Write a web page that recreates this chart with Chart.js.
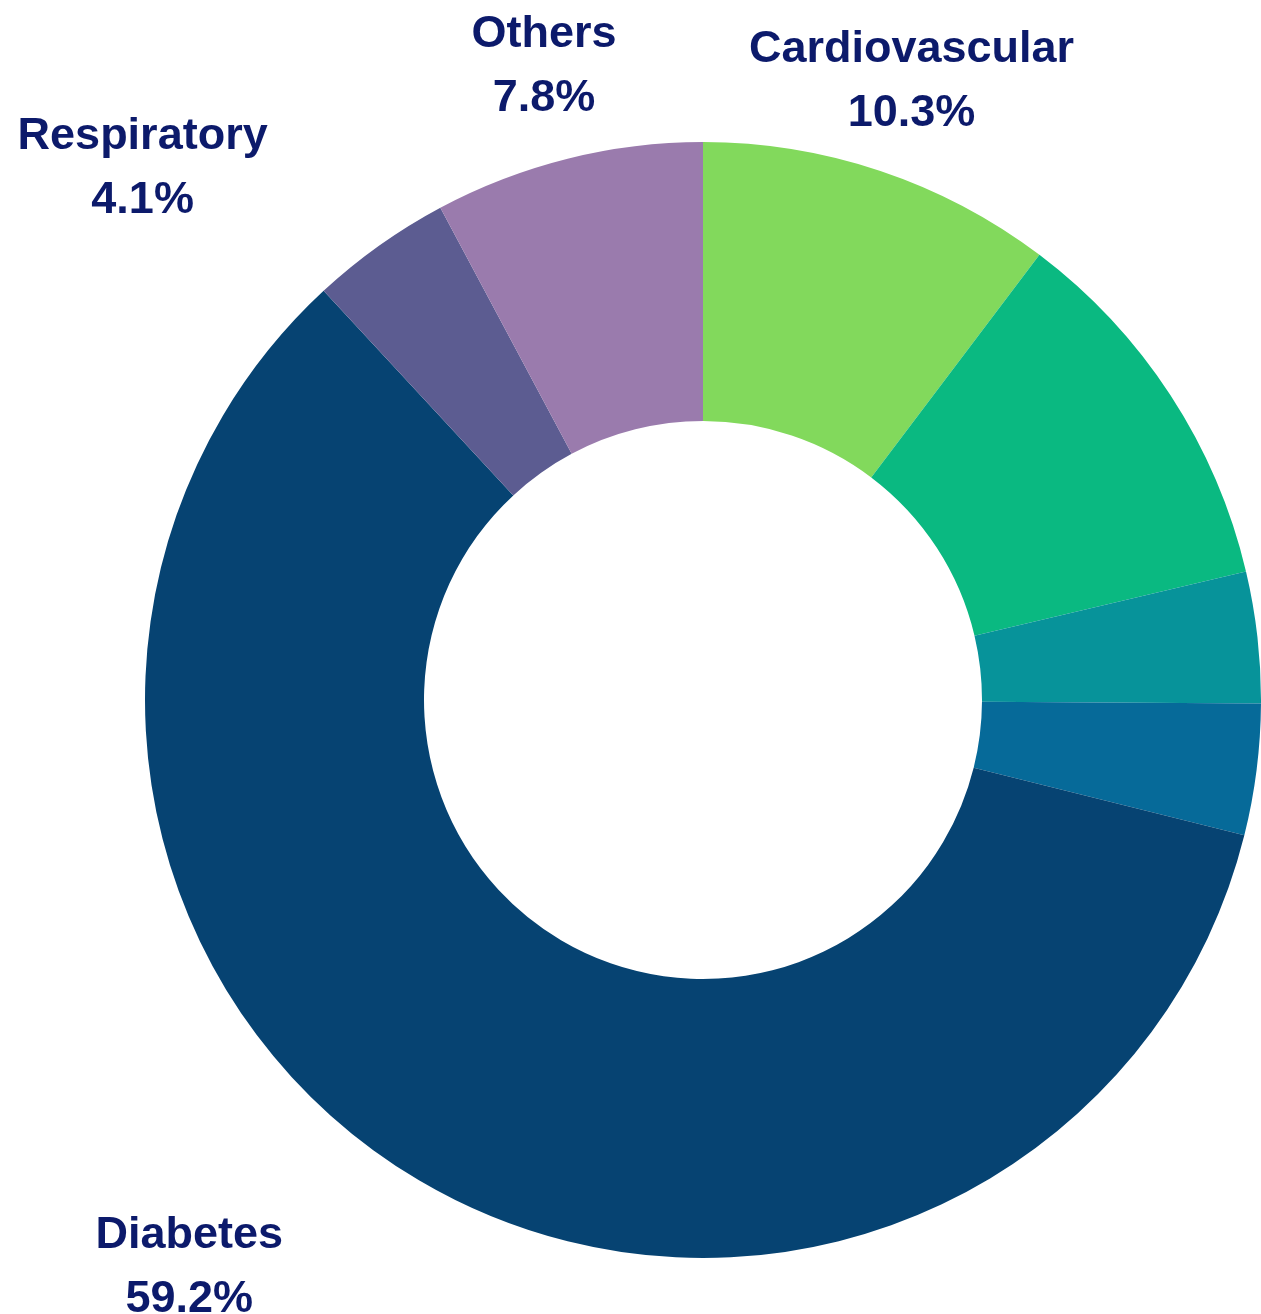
<!DOCTYPE html>
<html>
<head>
<meta charset="utf-8">
<script src="https://cdn.jsdelivr.net/npm/chart.js@4.4.1/dist/chart.umd.min.js"></script>
<style>
  html, body { margin: 0; padding: 0; background: #ffffff; }
  #wrap { width: 1261px; height: 1314px; position: relative; }
</style>
</head>
<body>
<div id="wrap"><canvas id="c"></canvas></div>
<script>
// ---- data ----
const categories = ["Cardiovascular", "Segment 2", "Segment 3", "Segment 4", "Diabetes", "Respiratory", "Others"];
const shares = [10.3, 11.0, 3.8, 3.8, 59.2, 4.1, 7.8];
const sliceColors = ["#82d95c", "#0ab981", "#07939a", "#066a99", "#064372", "#5c5c91", "#9a7bad"];
const labelMinShare = 4.0;

const labelColor = "#0c1a6b";
const labelFont = "bold 45px 'Liberation Sans', Arial, sans-serif";
const lineGap = 64;

const outsideLabels = {
  id: "outsideLabels",
  afterDatasetsDraw(chart) {
    const ctx = chart.ctx;
    const meta = chart.getDatasetMeta(0);
    ctx.save();
    ctx.font = labelFont;
    ctx.fillStyle = labelColor;
    ctx.textAlign = "center";
    ctx.textBaseline = "middle";
    meta.data.forEach((arc, i) => {
      const v = shares[i];
      if (v < labelMinShare) return;
      const p = arc.getProps(["x", "y", "startAngle", "endAngle", "outerRadius"], true);
      const mid = (p.startAngle + p.endAngle) / 2;
      const dx = Math.cos(mid), dy = Math.sin(mid);
      const rl = p.outerRadius * 1.175;
      let cx = p.x + rl * dx;
      let cy = p.y + rl * dy + 3;
      // labels far from the vertical axis are shifted sideways, away from the ring
      if (Math.abs(dx) > 0.45) {
        cx += Math.sign(dx) * p.outerRadius * 0.3226;
      }
      ctx.fillText(categories[i], cx, cy - lineGap / 2);
      ctx.fillText(v.toFixed(1) + "%", cx, cy + lineGap / 2);
    });
    ctx.restore();
  }
};

new Chart(document.getElementById("c"), {
  type: "doughnut",
  data: {
    labels: categories,
    datasets: [{
      data: shares,
      backgroundColor: sliceColors,
      borderWidth: 0,
      hoverOffset: 0
    }]
  },
  options: {
    responsive: true,
    maintainAspectRatio: false,
    animation: false,
    cutout: "50%",
    layout: { padding: { left: 145, right: 0, top: 142, bottom: 56 } },
    plugins: {
      legend: { display: false },
      tooltip: { enabled: false }
    }
  },
  plugins: [outsideLabels]
});
</script>
</body>
</html>
